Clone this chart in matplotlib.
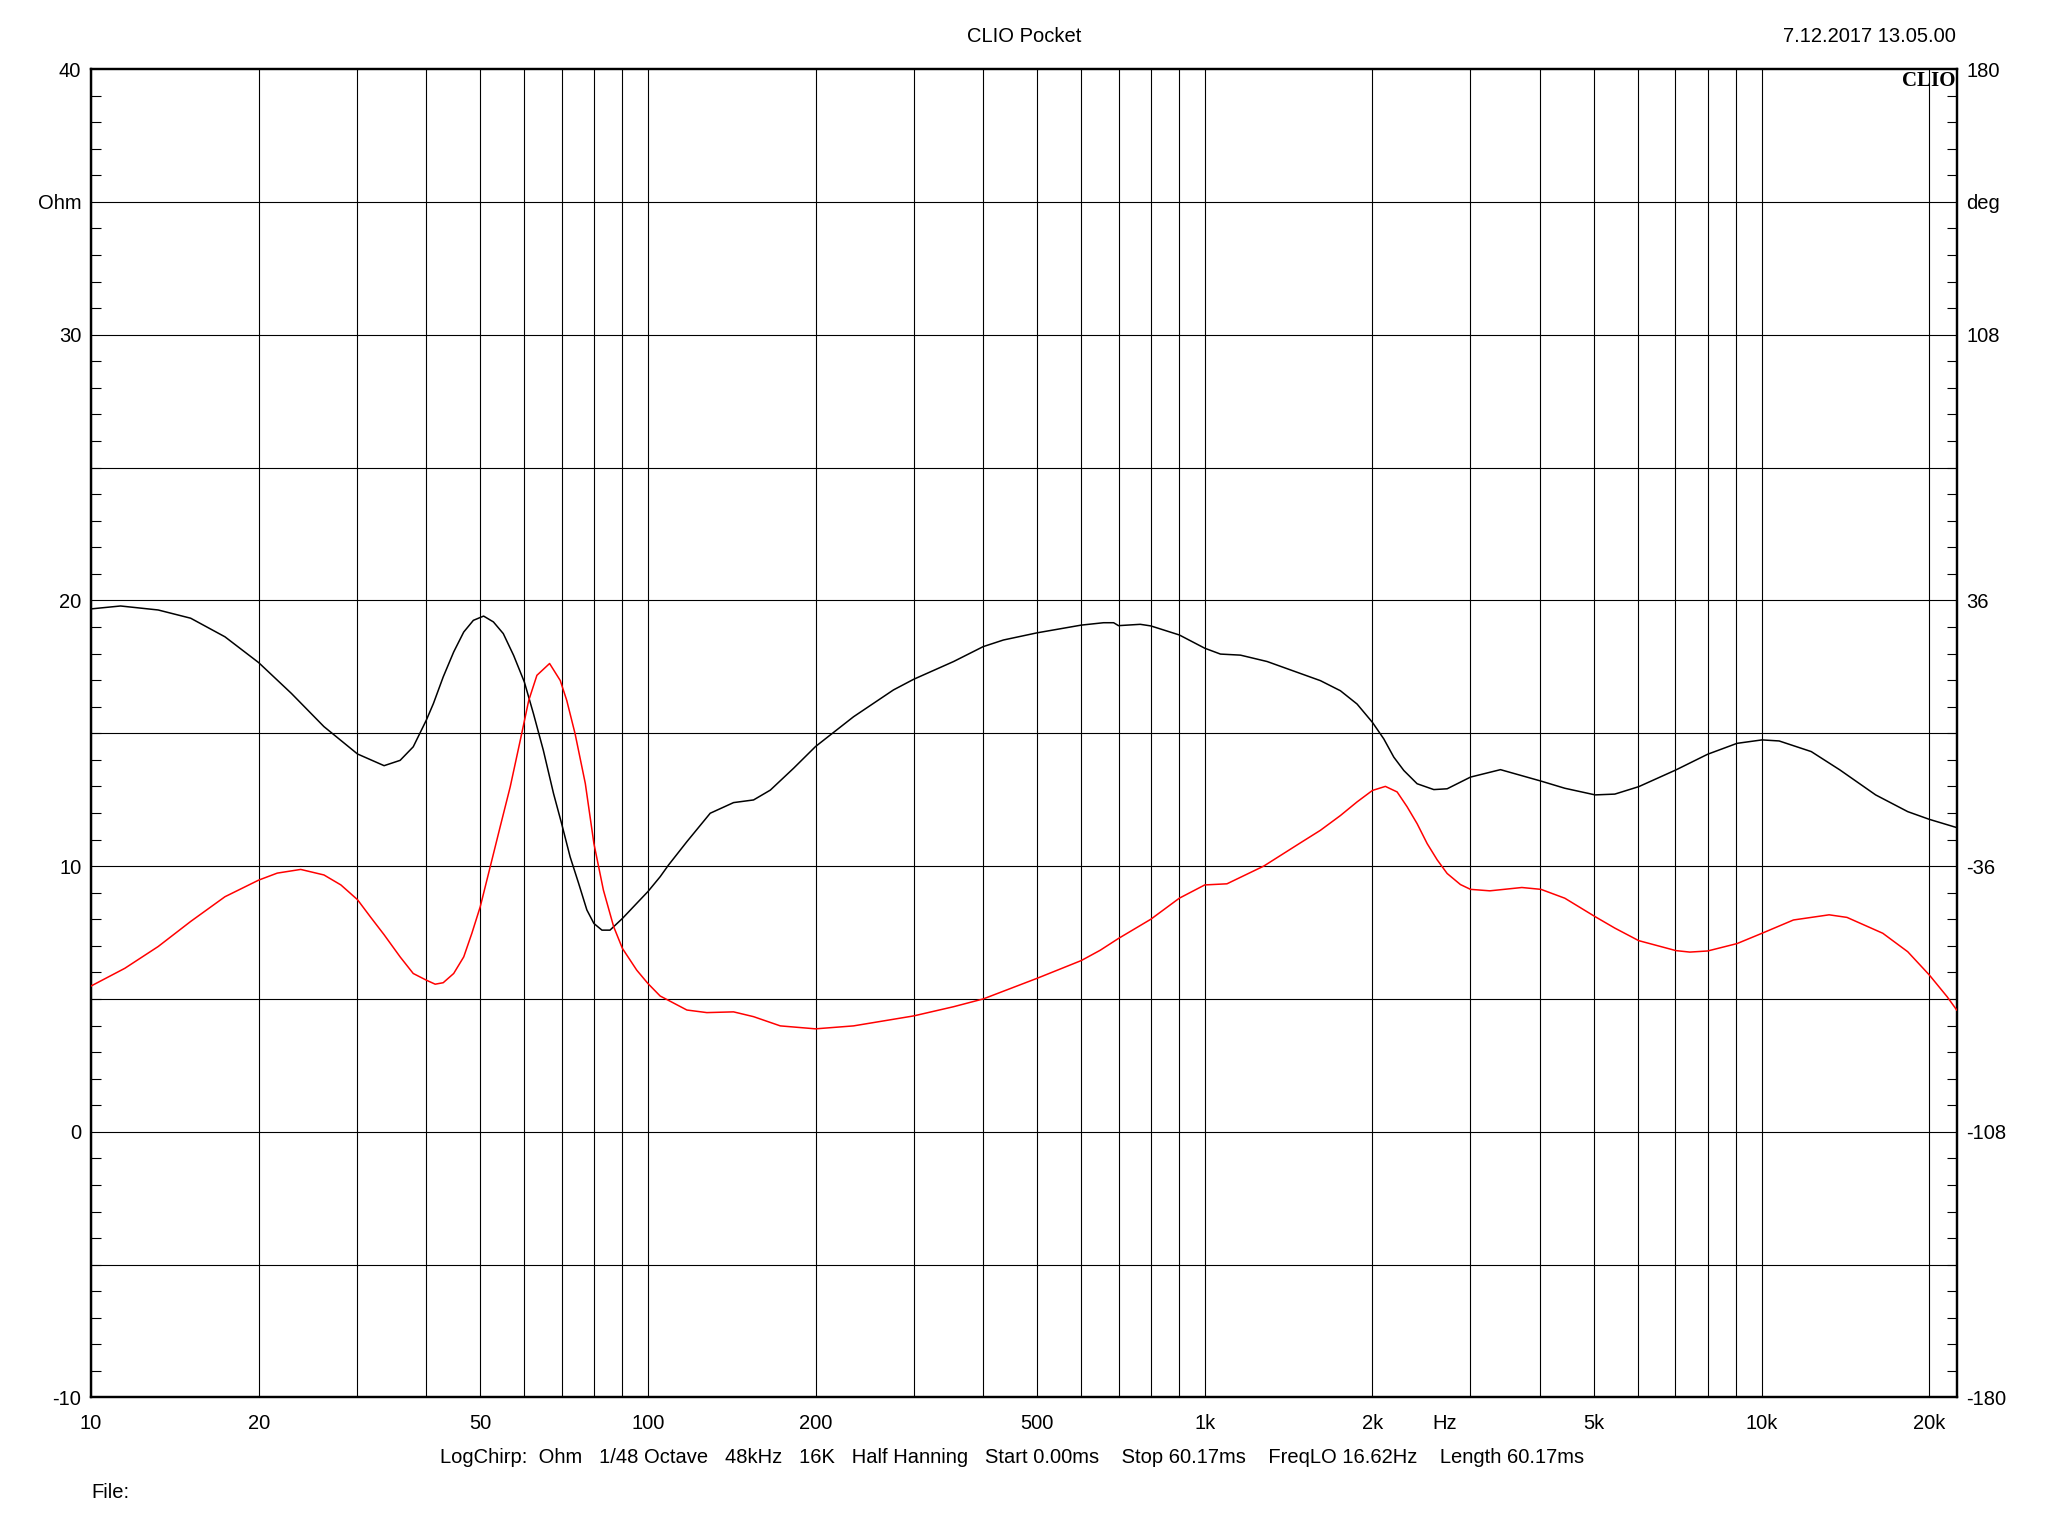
import matplotlib
matplotlib.use("Agg")
import matplotlib.pyplot as plt
from matplotlib.ticker import FixedLocator, MultipleLocator, NullFormatter

plt.rcParams['font.family'] = ['Liberation Sans', 'DejaVu Sans']

# impedance magnitude (Ohm)
freq_mag = [10, 11.3, 13.2, 15.1, 17.4, 20, 22.9, 26.2, 30.1, 33.6, 35.9, 37.9,
            40, 41.2, 42.9, 44.8, 46.7, 48.6, 50.7, 52.8, 55.0, 57.4, 60, 62.3,
            64.9, 67.7, 70, 72.5, 75.1, 77.7, 80, 82.7, 85.5, 90, 95.5, 100,
            105.2, 108.9, 117.5, 129.4, 142.5, 154.8, 165.9, 182.6, 200, 234,
            276, 300, 354, 400, 435, 500, 600, 658, 686, 700, 766, 800, 900,
            1000, 1067, 1159, 1294, 1485, 1613, 1752, 1877, 2000, 2096, 2185,
            2277, 2406, 2578, 2724, 3000, 3396, 4015, 4431, 5023, 5449, 6015,
            7015, 7998, 9030, 10014, 10750, 12276, 13818, 16020, 18292, 20000,
            22400]
ohm = [19.68, 19.79, 19.64, 19.33, 18.63, 17.66, 16.5, 15.25, 14.22, 13.78,
       13.98, 14.49, 15.49, 16.12, 17.12, 18.06, 18.81, 19.25, 19.41, 19.19,
       18.75, 17.93, 16.93, 15.74, 14.36, 12.73, 11.6, 10.35, 9.35, 8.35, 7.84,
       7.59, 7.59, 8.03, 8.6, 9.04, 9.6, 10.04, 10.92, 11.99, 12.39, 12.49,
       12.86, 13.68, 14.5, 15.62, 16.63, 17.03, 17.7, 18.26, 18.51, 18.78,
       19.07, 19.16, 19.16, 19.05, 19.1, 19.04, 18.7, 18.2, 17.98, 17.94, 17.7,
       17.25, 16.98, 16.6, 16.1, 15.41, 14.79, 14.1, 13.6, 13.1, 12.88, 12.91,
       13.35, 13.63, 13.2, 12.93, 12.68, 12.71, 12.99, 13.62, 14.21, 14.62,
       14.75, 14.71, 14.31, 13.62, 12.68, 12.05, 11.76, 11.45]

# impedance phase (deg)
freq_ph = [10, 11.5, 13.2, 15.1, 17.4, 20, 21.6, 23.8, 26.2, 28.1, 30.1, 31.8,
           33.6, 35.9, 37.9, 40, 41.5, 42.9, 44.8, 46.7, 48.3, 50, 52.1, 54.3,
           56.6, 59.0, 61.1, 63.2, 66.6, 69.6, 71.5, 74.0, 77.2, 80, 83.2, 86.8,
           90, 95.5, 100, 105.2, 117.5, 127.6, 142.5, 154.8, 172.9, 200, 234,
           300, 354, 400, 500, 600, 649, 700, 800, 900, 1000, 1096, 1276, 1485,
           1613, 1752, 1877, 2000, 2110, 2215, 2308, 2406, 2508, 2614, 2724,
           2878, 3000, 3250, 3710, 4015, 4431, 5023, 5449, 6015, 7015, 7430,
           7998, 9030, 10014, 11404, 13217, 14230, 16500, 18292, 20000, 21530,
           22400]
phase = [-68.5, -63.7, -57.8, -51.0, -44.3, -39.8, -37.9, -36.9, -38.4, -41.1,
         -45.1, -49.9, -54.6, -60.6, -65.1, -66.9, -68.0, -67.6, -65.1, -60.6,
         -54.2, -47.0, -36.2, -25.3, -14.5, -1.9, 8.9, 15.7, 18.9, 14.3, 8.9,
         -0.1, -13.6, -29.9, -42.5, -52.4, -58.3, -64.2, -67.8, -71.2, -75.0,
         -75.7, -75.5, -76.8, -79.3, -80.1, -79.3, -76.6, -74.1, -72.0, -66.4,
         -61.6, -58.8, -55.6, -50.4, -44.7, -41.1, -40.8, -36.0, -29.7, -26.3,
         -22.3, -18.6, -15.5, -14.4, -15.9, -19.9, -24.5, -29.9, -34.3, -38.0,
         -41.0, -42.3, -42.7, -41.8, -42.3, -44.7, -49.7, -52.8, -56.2, -58.9,
         -59.3, -59.0, -57.0, -54.2, -50.6, -49.2, -49.9, -54.2, -59.2, -65.5,
         -71.4, -75.0]

x_ticks = [10, 20, 50, 100, 200, 500, 1000, 2000, 5000, 10000, 20000]
x_labels = ['10', '20', '50', '100', '200', '500', '1k', '2k', '5k', '10k', '20k']
y_ticks = [40, 35, 30, 20, 10, 0, -10]
y_labels = ['40', 'Ohm', '30', '20', '10', '0', '-10']
ph_ticks = [180, 144, 108, 36, -36, -108, -180]
ph_labels = ['180', 'deg', '108', '36', '-36', '-108', '-180']

fs = 14.5
fig = plt.figure(figsize=(20.48, 15.36), dpi=100)
ax = fig.add_axes([0.04443, 0.09017, 0.9110, 0.8649])
ax.set_xscale('log')
ax.set_xlim(10, 22400)
ax.set_ylim(-10, 40)

# grid: 1..9 per decade on x, every 5 Ohm on y
grid_x = [m * 10 ** d for d in range(1, 5) for m in range(1, 10) if m * 10 ** d < 22400]
for gx in grid_x:
    ax.axvline(gx, color='black', lw=0.8, zorder=1)
for gy in range(-5, 40, 5):
    ax.axhline(gy, color='black', lw=0.8, zorder=1)

ax.set_xticks(x_ticks)
ax.set_xticklabels(x_labels, fontsize=fs)
ax.xaxis.set_minor_locator(FixedLocator([]))
ax.tick_params(axis='x', length=0, pad=12)
ax.set_yticks(y_ticks)
ax.set_yticklabels(y_labels, fontsize=fs)
ax.yaxis.set_minor_locator(MultipleLocator(1))
ax.tick_params(axis='y', which='major', length=0, pad=7)
ax.tick_params(axis='y', which='minor', direction='in', length=7, width=0.8,
               left=True, right=False)
for s in ax.spines.values():
    s.set_linewidth(1.6)

ax.plot(freq_mag, ohm, color='black', lw=1.1, zorder=3)

ax2 = ax.twinx()
ax2.set_ylim(-180, 180)
ax2.set_yticks(ph_ticks)
ax2.set_yticklabels(ph_labels, fontsize=fs)
ax2.yaxis.set_minor_locator(MultipleLocator(7.2))
ax2.yaxis.set_minor_formatter(NullFormatter())
ax2.tick_params(axis='y', which='major', length=0, pad=7)
ax2.tick_params(axis='y', which='minor', direction='in', length=7, width=0.8)
for s in ax2.spines.values():
    s.set_linewidth(1.6)
ax2.plot(freq_ph, phase, color='red', lw=1.1, zorder=3)

ax.text(2700, -0.0126, 'Hz', transform=ax.get_xaxis_transform(),
        ha='center', va='top', fontsize=fs)

fig.text(0.5, 0.9763, 'CLIO Pocket', ha='center', va='center', fontsize=fs)
fig.text(0.955, 0.9763, '7.12.2017 13.05.00', ha='right', va='center', fontsize=fs)
fig.text(0.9548, 0.9535, 'CLIO', ha='right', va='top', fontsize=15,
         fontweight='bold', family=['Liberation Serif', 'DejaVu Serif'])
fig.text(0.494, 0.051,
         'LogChirp:  Ohm   1/48 Octave   48kHz   16K   Half Hanning   Start 0.00ms    '
         'Stop 60.17ms    FreqLO 16.62Hz    Length 60.17ms',
         ha='center', va='center', fontsize=fs)
fig.text(0.0444, 0.0285, 'File:', ha='left', va='center', fontsize=fs)

fig.savefig('out.png', dpi=100)
